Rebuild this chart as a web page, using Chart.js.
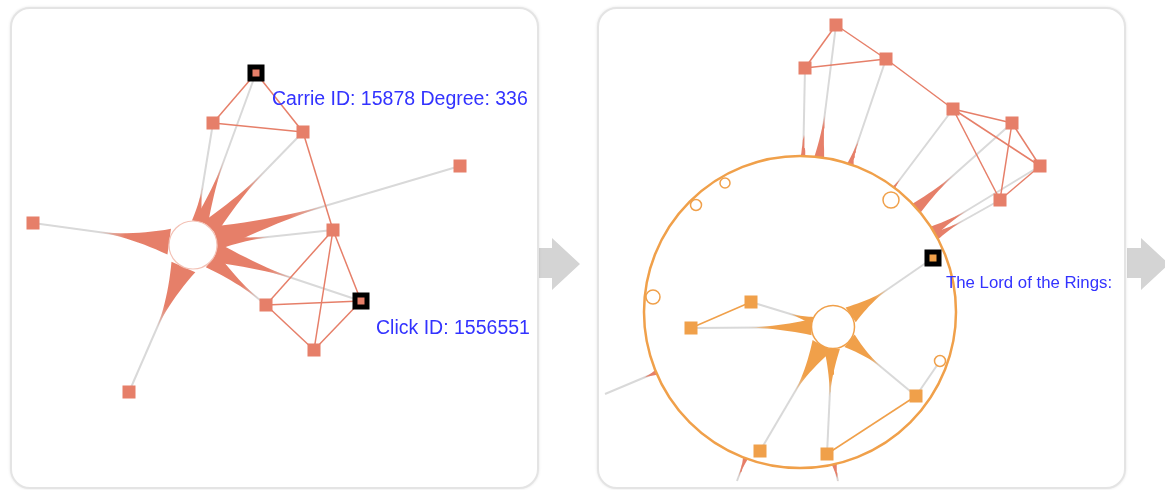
<!DOCTYPE html>
<html>
<head>
<meta charset="utf-8">
<script src="https://cdn.jsdelivr.net/npm/chart.js@4.4.1/dist/chart.umd.min.js"></script>
<style>
  html, body { margin: 0; padding: 0; background: #fff; width: 1165px; height: 490px; overflow: hidden;
    font-family: "Liberation Sans", Arial, sans-serif; }
  .panel { position: absolute; top: 7px; width: 529px; height: 482px; box-sizing: border-box;
    border: 2px solid #e4e4e4; border-radius: 20px; background: #fff; box-shadow: 0 0 3px rgba(0,0,0,0.10); }
  .plot { position: absolute; top: 7px; width: 529px; height: 482px; }
  .arrow { position: absolute; top: 238px; width: 42px; height: 52px; background: #d4d4d4;
    clip-path: polygon(0 10px, 14px 10px, 14px 0, 42px 26px, 14px 52px, 14px 40px, 0 40px); }
  .label { position: absolute; color: #3333ff; white-space: nowrap; line-height: 1; }
</style>
</head>
<body>
<div class="arrow" style="left:538px"></div>
<div class="arrow" style="left:1127px"></div>
<div class="panel" style="left:10px"></div>
<div class="panel" style="left:597px"></div>
<div class="plot" style="left:10px"><canvas id="left" width="529" height="482"></canvas></div>
<div class="plot" style="left:597px"><canvas id="right" width="529" height="482"></canvas></div>
<div class="label" style="left:272px; top:89px; font-size:19.5px">Carrie ID: 15878 Degree: 336</div>
<div class="label" style="left:376px; top:318px; font-size:19.5px">Click ID: 1556551</div>
<div class="label" style="left:946px; top:275px; font-size:16.8px">The Lord of the Rings:</div>

<script>
// ---- left panel: ego network around one hub ----
const hub1 = [193, 245];
const hub1R = 24;
const nodeX1 = [256, 213, 303, 460, 33, 333, 361, 266, 314, 129];
const nodeY1 = [73, 123, 132, 166, 223, 230, 301, 305, 350, 392];
const picked1 = [0, 6];
const links1 = [[0, 1], [0, 2], [1, 2], [2, 5], [5, 7], [5, 6], [5, 8], [7, 6], [7, 8], [6, 8]];
const hubLinks1 = [0, 1, 2, 3, 4, 5, 6, 7, 9];
// spikes out of the hub: target node, reach from hub centre, half width at hub edge
const spikeTo1 = [4, 9, 0, 1, 2, 3, 5, 6, 7];
const spikeLen1 = [98, 95, 95, 62, 108, 150, 82, 115, 90];
const spikeW1 = [13, 13, 7, 5, 9, 12, 7, 10, 9];

// ---- right panel: community collapsed into a ring ----
const hub2 = [833, 327];
const hub2R = 21.5;
const ring = [800, 312];
const ringR = 156;
const nodeX2 = [933, 751, 691, 916, 760, 827];
const nodeY2 = [258, 302, 328, 396, 451, 454];
const picked2 = [0];
const links2 = [[1, 2], [3, 5]];
const hubLinks2 = [0, 1, 2, 3, 4, 5];
const spikeTo2 = [0, 1, 2, 3, 4, 5];
const spikeLen2 = [70, 48, 88, 66, 80, 74];
const spikeW2 = [9, 4, 8, 8, 11, 8];
const dotX = [725, 696, 891, 653, 940];
const dotY = [183, 205, 200, 297, 361];
const dotR = [5, 5.5, 8, 7, 5.5];
const dotLinks = [[4, 3]];           // ring dot -> inner node

// nodes outside the ring, and their links into it
const outX = [836, 805, 886, 953, 1012, 1040, 1000, 605, 737, 838];
const outY = [25, 68, 59, 109, 123, 166, 200, 394, 481, 481];
const outShown = [0, 1, 2, 3, 4, 5, 6];
const outLinks = [[0, 1], [0, 2], [1, 2], [2, 3], [3, 4], [3, 5], [3, 6], [4, 5], [4, 6], [5, 6]];
const outSpikeLen = [50, 32, 30, 12, 56, 44, 34, 16, 24, 20];
const outSpikeW = [5, 2.5, 3, 1.5, 6, 5, 4, 2.5, 2.5, 2.5];

const SALMON = '#e67f69';
const ORANGE = '#f0a04a';
const GREY = '#d9d9d9';

// tapered arm, concave sides
function spikeShape(bx, by, tx, ty, len, w) {
    const dx = tx - bx, dy = ty - by;
    const d = Math.hypot(dx, dy);
    const ux = dx / d, uy = dy / d;
    const left = [], right = [];
    for (let i = 0; i <= 12; i++) {
        const s = i / 12;
        const hw = w * Math.pow(1 - s, 1.8);
        const cx = bx + ux * len * s, cy = by + uy * len * s;
        left.push({x: cx - uy * hw, y: cy + ux * hw});
        right.unshift({x: cx + uy * hw, y: cy - ux * hw});
    }
    return left.concat(right.slice(1));
}

function fade(color, x1, y1, x2, y2) {
    return (c) => {
        const chart = c.chart;
        if (!chart.chartArea) return color;
        const sx = chart.scales.x, sy = chart.scales.y;
        const g = chart.ctx.createLinearGradient(sx.getPixelForValue(x1), sy.getPixelForValue(y1),
            sx.getPixelForValue(x2), sy.getPixelForValue(y2));
        g.addColorStop(0, color);
        g.addColorStop(0.6, color);
        g.addColorStop(1, color + '00');
        return g;
    };
}

function edge(x1, y1, x2, y2, color, width, order) {
    return {
        type: 'line', data: [{x: x1, y: y1}, {x: x2, y: y2}],
        borderColor: color, borderWidth: width, pointRadius: 0, fill: false, tension: 0, order: order
    };
}

function spike(bx, by, tx, ty, len, w, color, order) {
    const d = Math.hypot(tx - bx, ty - by);
    const ex = bx + (tx - bx) / d * len, ey = by + (ty - by) / d * len;
    return {
        type: 'line', data: spikeShape(bx, by, tx, ty, len, w),
        borderWidth: 0, borderColor: 'rgba(0,0,0,0)', pointRadius: 0, tension: 0,
        fill: 'shape', backgroundColor: fade(color, bx, by, ex, ey), order: order
    };
}

// arms that leave a circle's edge toward a node
function hubSpike(cx, cy, r, tx, ty, reach, w, color, order) {
    const d = Math.hypot(tx - cx, ty - cy);
    const bx = cx + (tx - cx) / d * r, by = cy + (ty - cy) / d * r;
    return spike(bx, by, tx, ty, reach - r, w, color, order);
}

function nodeSet(xs, ys, picked, color) {
    return {
        type: 'scatter',
        data: xs.map((x, i) => ({x: x, y: ys[i]})),
        pointStyle: 'rect',
        pointRadius: xs.map((x, i) => picked.includes(i) ? 8.5 : 9.2),
        pointBackgroundColor: color,
        pointBorderColor: '#000',
        pointBorderWidth: xs.map((x, i) => picked.includes(i) ? 5 : 0),
        order: 0
    };
}

function circleSet(xs, ys, rs, fillColor, stroke, width, order) {
    return {
        type: 'scatter',
        data: xs.map((x, i) => ({x: x, y: ys[i]})),
        pointStyle: 'circle', pointRadius: rs,
        pointBackgroundColor: fillColor, pointBorderColor: stroke, pointBorderWidth: width,
        order: order
    };
}

function makeChart(id, left, datasets) {
    return new Chart(document.getElementById(id), {
        type: 'scatter',
        data: {datasets: datasets},
        options: {
            responsive: false,
            animation: false,
            events: [],
            layout: {padding: 0, autoPadding: false},
            plugins: {legend: {display: false}, tooltip: {enabled: false}},
            scales: {
                x: {type: 'linear', min: left, max: left + 529, display: false},
                y: {type: 'linear', min: 7, max: 489, reverse: true, display: false}
            }
        }
    });
}

// ---- build left panel ----
const ds1 = [];
hubLinks1.forEach(i => ds1.push(edge(hub1[0], hub1[1], nodeX1[i], nodeY1[i], GREY, 2, 6)));
links1.forEach(([a, b]) => ds1.push(edge(nodeX1[a], nodeY1[a], nodeX1[b], nodeY1[b], SALMON, 1.5, 4)));
spikeTo1.forEach((n, k) => ds1.push(hubSpike(hub1[0], hub1[1], hub1R, nodeX1[n], nodeY1[n],
    spikeLen1[k], spikeW1[k], SALMON, 5)));
ds1.push(circleSet([hub1[0]], [hub1[1]], [hub1R], '#fff', '#f3c2b6', 1.2, 2));
ds1.push(nodeSet(nodeX1, nodeY1, picked1, SALMON));
makeChart('left', 10, ds1);

// ---- build right panel ----
const ds2 = [];
outShown.concat([7, 8, 9]).forEach(i => ds2.push(edge(outX[i], outY[i], ring[0], ring[1], GREY, 2, 10)));
outLinks.forEach(([a, b]) => ds2.push(edge(outX[a], outY[a], outX[b], outY[b], SALMON, 1.5, 9)));
outX.forEach((x, i) => ds2.push(hubSpike(ring[0], ring[1], ringR, x, outY[i],
    ringR + outSpikeLen[i], outSpikeW[i], SALMON, 8)));
ds2.push(circleSet([ring[0]], [ring[1]], [ringR], '#fff', ORANGE, 2.5, 7));
hubLinks2.forEach(i => ds2.push(edge(hub2[0], hub2[1], nodeX2[i], nodeY2[i], GREY, 2, 6)));
dotLinks.forEach(([d, n]) => ds2.push(edge(dotX[d], dotY[d], nodeX2[n], nodeY2[n], GREY, 2, 6)));
links2.forEach(([a, b]) => ds2.push(edge(nodeX2[a], nodeY2[a], nodeX2[b], nodeY2[b], ORANGE, 1.5, 4)));
spikeTo2.forEach((n, k) => ds2.push(hubSpike(hub2[0], hub2[1], hub2R, nodeX2[n], nodeY2[n],
    spikeLen2[k], spikeW2[k], ORANGE, 5)));
ds2.push(circleSet([hub2[0]], [hub2[1]], [hub2R], '#fff', ORANGE, 1.5, 2));
ds2.push(circleSet(dotX, dotY, dotR, '#fff', ORANGE, 1.5, 1));
ds2.push(nodeSet(outShown.map(i => outX[i]), outShown.map(i => outY[i]), [], SALMON));
ds2.push(nodeSet(nodeX2, nodeY2, picked2, ORANGE));
makeChart('right', 597, ds2);
</script>
</body>
</html>
